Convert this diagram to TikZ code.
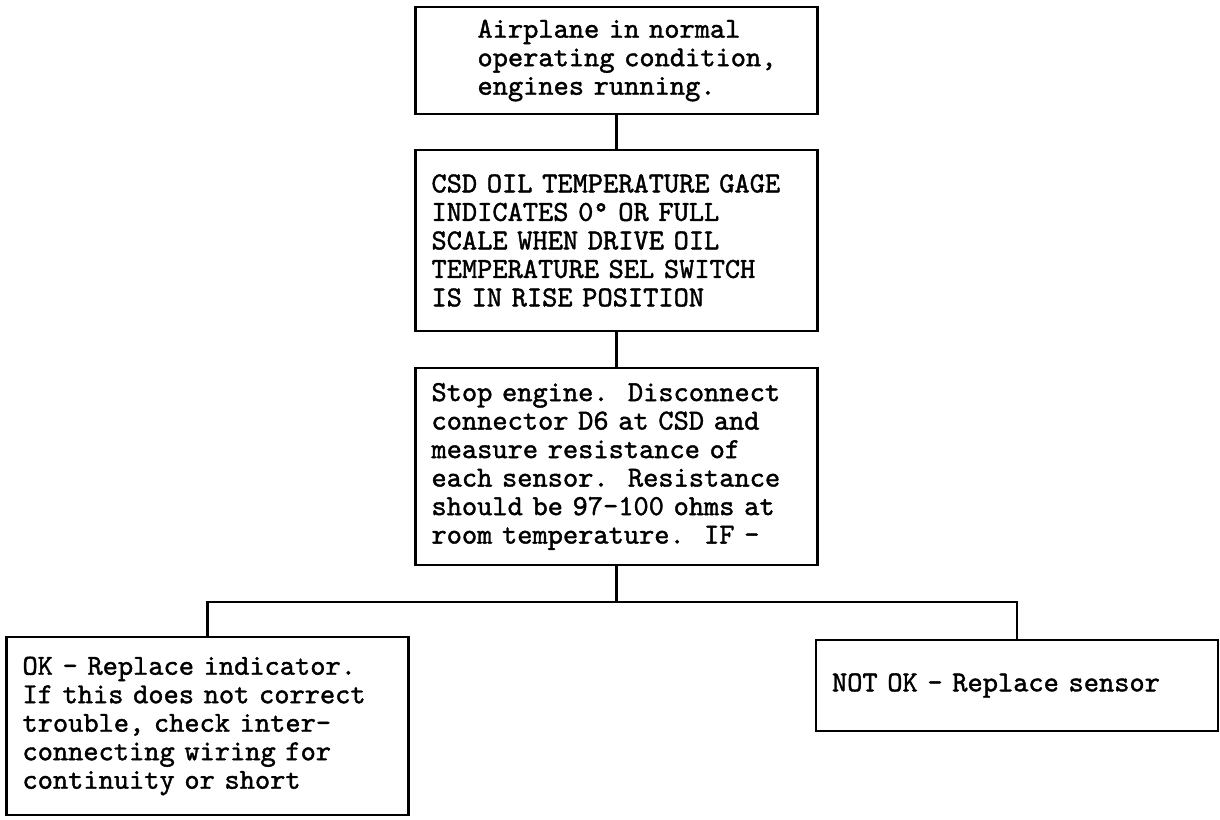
\documentclass[tikz,border=0pt]{standalone}
\usepackage{fontspec}
\newfontfamily\typewriter{lmmono10-regular.otf}[FakeBold=1.4]
\begin{document}
\begin{tikzpicture}[x=1pt, y=-1pt,
    box/.style={draw, rectangle, line width=2.4pt, inner xsep=16pt, inner ysep=0pt,
        text width=370pt, align=left, font=\typewriter\fontsize{29}{28.5}\selectfont},
    lpad/.style={execute at begin node={\leftskip=#1}},
    link/.style={line width=2.2pt}]
            \useasboundingbox (0,0) rectangle (1220,819);
            % starting condition
            \node[box, lpad=46pt, minimum height=107pt] (start) at (616.5,60.5)
                {Airplane in normal\\operating condition,\\engines running.};
            % symptom
            \node[box, minimum height=181pt] (symptom) at (616.5,240.5)
                {CSD OIL TEMPERATURE GAGE\\INDICATES 0° OR FULL\\SCALE WHEN DRIVE OIL\\TEMPERATURE SEL SWITCH\\IS IN RISE POSITION};
            % check
            \node[box, minimum height=197pt] (check) at (616.5,466.5)
                {Stop engine.~~Disconnect\\connector D6 at CSD and\\measure resistance of\\each sensor.~~Resistance\\should be 97-100 ohms at\\room temperature.~~IF -\\[-12pt]};
            % results
            \node[box, minimum height=178pt] (ok) at (207.5,726)
                {OK - Replace indicator.\\If this does not correct\\trouble, check inter-\\connecting wiring for\\continuity or short};
            \node[box, minimum height=91pt] (notok) at (1017,685.5)
                {NOT OK - Replace sensor};

            \coordinate (fork) at (616.5,602);
            \draw[link] (start) -- (symptom);
            \draw[link] (symptom) -- (check);
            \draw[link] (check) -- (fork);
            \draw[link] (ok) |- (fork) -| (notok);
        \end{tikzpicture}
\end{document}
